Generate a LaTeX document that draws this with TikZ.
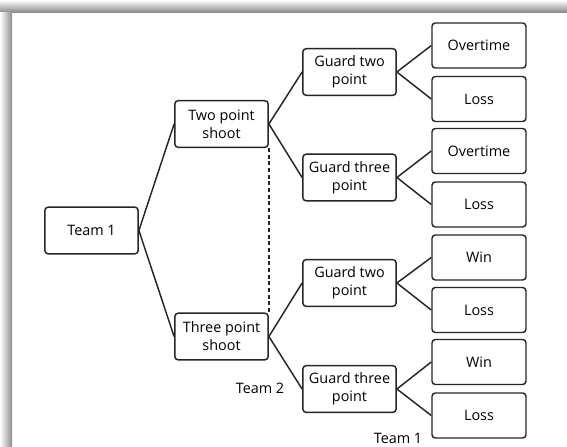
\documentclass[tikz,border=0pt]{standalone}
\usepackage{fontspec}
\setmainfont{Open Sans}
\usepackage{tikz}

\tikzset{
  box/.style={draw=black!85, line width=1.1pt, rounded corners=2.5pt, align=center,
    minimum width=70pt, minimum height=35pt, inner sep=1pt,
    font=\fontsize{10.8}{13.5}\selectfont},
  leaf/.style={box, minimum width=70.5pt, minimum height=33.75pt},
  link/.style={draw=black!85, line width=1.1pt}
}

\begin{document}
\begin{tikzpicture}[x=0.75pt, y=-0.75pt]
  \useasboundingbox (0,0) rectangle (567,446);
  \fill[white] (0,0) rectangle (567,446);
  \shade[top color=white, bottom color=black!45] (0,0) rectangle (567,12);
  \shade[left color=white, right color=black!45] (0,12) rectangle (12,446);

  \node[box] (t1) at (91.5,230.5) {Team 1};
  \node[box] (two) at (221.5,124) {Two point\\shoot};
  \node[box] (three) at (221.5,336.5) {Three point\\shoot};

  \node[box] (g2a) at (349.5,72) {Guard two\\point};
  \node[box] (g3a) at (349.5,177.5) {Guard three\\point};
  \node[box] (g2b) at (349.5,283) {Guard two\\point};
  \node[box] (g3b) at (349.5,389) {Guard three\\point};

  \node[leaf] (o1) at (479,45.5) {Overtime};
  \node[leaf] (l1) at (479,99) {Loss};
  \node[leaf] (o2) at (479,151) {Overtime};
  \node[leaf] (l2) at (479,204.5) {Loss};
  \node[leaf] (w1) at (479,257.5) {Win};
  \node[leaf] (l3) at (479,310) {Loss};
  \node[leaf] (w2) at (479,362) {Win};
  \node[leaf] (l4) at (479,415.5) {Loss};

  \node[font=\fontsize{10.8}{12}\selectfont] (lbl2) at (260,388) {Team 2};
  \node[font=\fontsize{10.8}{12}\selectfont] (lbl1) at (398,438) {Team 1};

  \draw[link] (two.west) -- (t1.east) -- (three.west);
  \draw[link] (g2a.west) -- (two.east) -- (g3a.west);
  \draw[link] (g2b.west) -- (three.east) -- (g3b.west);
  \draw[link] (o1.west) -- (g2a.east) -- (l1.west);
  \draw[link] (o2.west) -- (g3a.east) -- (l2.west);
  \draw[link] (w1.west) -- (g2b.east) -- (l3.west);
  \draw[link] (w2.west) -- (g3b.east) -- (l4.west);
  \draw[link, line width=0.9pt, dash pattern=on 3pt off 2pt] (two.south east) -- (three.north east);
\end{tikzpicture}
\end{document}
